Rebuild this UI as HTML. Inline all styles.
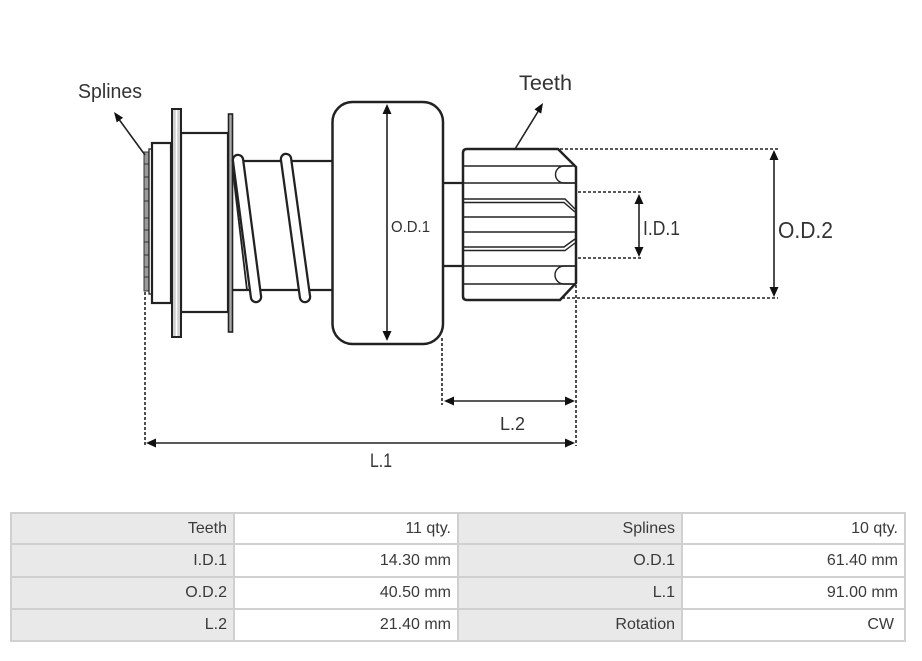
<!DOCTYPE html>
<html>
<head>
<meta charset="utf-8">
<style>
html,body{margin:0;padding:0;background:#fff;}
body{width:922px;height:661px;position:relative;overflow:hidden;font-family:"Liberation Sans",sans-serif;}
svg{position:absolute;left:0;top:0;}
.tbl{position:absolute;left:10px;top:512px;width:896px;height:130px;background:#d0d0d0;}
.c{position:absolute;box-sizing:border-box;text-align:right;padding-right:6px;font-size:16px;color:#3a3a3a;font-family:"Liberation Sans",sans-serif;}
.l{background:#e9e9e9;}
.v{background:#fff;}
</style>
</head>
<body>
<svg width="922" height="500" viewBox="0 0 922 500" xmlns="http://www.w3.org/2000/svg">
  <g fill="none" stroke="#222" stroke-width="1.6" stroke-dasharray="3,2">
    <line x1="145" y1="292" x2="145" y2="446"/>
    <line x1="576" y1="285" x2="576" y2="446"/>
    <line x1="442" y1="338" x2="442" y2="405"/>
    <line x1="560" y1="149" x2="778" y2="149"/>
    <line x1="562" y1="298" x2="778" y2="298"/>
    <line x1="578" y1="192" x2="641" y2="192"/>
    <line x1="578" y1="258" x2="641" y2="258"/>
  </g>

  <!-- shaft lines -->
  <g stroke="#222" stroke-width="2.2" fill="none">
    <line x1="232" y1="161" x2="333" y2="161"/>
    <line x1="232" y1="290" x2="333" y2="290"/>
    <line x1="443" y1="183" x2="463" y2="183"/>
    <line x1="443" y1="266" x2="463" y2="266"/>
  </g>

  <!-- splines strip -->
  <rect x="144" y="152" width="5" height="139" fill="#9a9a9a" stroke="#333" stroke-width="1"/>
  <g stroke="#333" stroke-width="1">
    <line x1="144" y1="164" x2="149" y2="164"/>
    <line x1="144" y1="177" x2="149" y2="177"/>
    <line x1="144" y1="189" x2="149" y2="189"/>
    <line x1="144" y1="201" x2="149" y2="201"/>
    <line x1="144" y1="218" x2="149" y2="218"/>
    <line x1="144" y1="230" x2="149" y2="230"/>
    <line x1="144" y1="242" x2="149" y2="242"/>
    <line x1="144" y1="255" x2="149" y2="255"/>
    <line x1="144" y1="267" x2="149" y2="267"/>
    <line x1="144" y1="277" x2="149" y2="277"/>
  </g>
  <rect x="149" y="149" width="3" height="145" fill="#fff" stroke="#222" stroke-width="1.3"/>
  <!-- collar -->
  <rect x="152" y="143" width="19" height="160" fill="#fff" stroke="#222" stroke-width="2.2"/>
  <!-- body between flanges -->
  <rect x="181" y="133" width="47" height="179" fill="#fff" stroke="#222" stroke-width="2.2"/>
  <!-- flange 1 -->
  <rect x="172" y="109" width="9" height="228" fill="#cfcfcf" stroke="#222" stroke-width="2"/>
  <line x1="176.5" y1="110" x2="176.5" y2="336" stroke="#fff" stroke-width="1.5"/>
  <!-- flange 2 -->
  <rect x="228.5" y="114" width="4" height="218" fill="#aaa" stroke="#222" stroke-width="1.6"/>

  <!-- spring back line -->
  <line x1="233" y1="172" x2="247" y2="290" stroke="#222" stroke-width="1.8"/>
  <!-- spring coils -->
  <g stroke-linecap="round">
    <line x1="238" y1="160" x2="256" y2="297" stroke="#222" stroke-width="12.5"/>
    <line x1="238" y1="160" x2="256" y2="297" stroke="#fff" stroke-width="8"/>
    <line x1="286" y1="159" x2="305" y2="297" stroke="#222" stroke-width="12.5"/>
    <line x1="286" y1="159" x2="305" y2="297" stroke="#fff" stroke-width="8"/>
  </g>

  <!-- O.D.1 block -->
  <rect x="332.5" y="102" width="110.5" height="242" rx="20" ry="20" fill="#fff" stroke="#222" stroke-width="2.5"/>

  <!-- teeth gear -->
  <path d="M467,149 L558,149 L576,167 L576,283 L560,300 L467,300 Q463,300 463,296 L463,153 Q463,149 467,149 Z" fill="#fff" stroke="#222" stroke-width="2.5"/>
  <g stroke="#222" stroke-width="1.4" fill="none">
    <line x1="464" y1="166" x2="572" y2="166"/>
    <line x1="464" y1="183" x2="576" y2="183"/>
    <polyline points="464,199 565,199 575,209"/>
    <polyline points="464,202.5 564,202.5 575,212"/>
    <line x1="464" y1="217" x2="576" y2="217"/>
    <line x1="464" y1="232" x2="576" y2="232"/>
    <polyline points="464,247 564,247 575,239"/>
    <polyline points="464,250.5 565,250.5 575,243"/>
    <line x1="464" y1="266" x2="576" y2="266"/>
    <line x1="464" y1="284" x2="574" y2="284"/>
    <path d="M575,166 L564,166 A8.5,8.5 0 0 0 564,183 L575,183"/>
    <path d="M575,266 L564,266 A9,9 0 0 0 564,284 L574,284"/>
  </g>

  <!-- dimension arrows -->
  <g stroke="#222" stroke-width="1.6">
    <line x1="387" y1="110" x2="387" y2="335"/>
    <line x1="639" y1="200" x2="639" y2="251"/>
    <line x1="774" y1="156" x2="774" y2="291"/>
    <line x1="450" y1="401" x2="569" y2="401"/>
    <line x1="152" y1="443" x2="569" y2="443"/>
    <line x1="145" y1="155" x2="118" y2="118"/>
    <line x1="515" y1="149" x2="539" y2="110"/>
  </g>
  <g fill="#111">
    <polygon points="387,104 382.5,114 391.5,114"/>
    <polygon points="387,341 382.5,331 391.5,331"/>
    <polygon points="639,194 634.5,204 643.5,204"/>
    <polygon points="639,257 634.5,247 643.5,247"/>
    <polygon points="774,150 769.5,160 778.5,160"/>
    <polygon points="774,297 769.5,287 778.5,287"/>
    <polygon points="444,401 454,396.5 454,405.5"/>
    <polygon points="575,401 565,396.5 565,405.5"/>
    <polygon points="146,443 156,438.5 156,447.5"/>
    <polygon points="575,443 565,438.5 565,447.5"/>
    <polygon points="114,112 123.1,117.8 116.7,122.4"/>
    <polygon points="543,103 541.2,113.6 534.4,109.4"/>
  </g>

  <!-- labels -->
  <g fill="#333" font-family="Liberation Sans, sans-serif">
    <text x="78" y="98" font-size="20" textLength="64" lengthAdjust="spacingAndGlyphs">Splines</text>
    <text x="519" y="90" font-size="21" textLength="53" lengthAdjust="spacingAndGlyphs">Teeth</text>
    <text x="391" y="232" font-size="16" textLength="39" lengthAdjust="spacingAndGlyphs">O.D.1</text>
    <text x="643" y="235" font-size="20" textLength="37" lengthAdjust="spacingAndGlyphs">I.D.1</text>
    <text x="778" y="238" font-size="23" textLength="55" lengthAdjust="spacingAndGlyphs">O.D.2</text>
    <text x="500" y="430" font-size="18" textLength="25" lengthAdjust="spacingAndGlyphs">L.2</text>
    <text x="370" y="467" font-size="19" textLength="22" lengthAdjust="spacingAndGlyphs">L.1</text>
  </g>
</svg>

<div class="tbl">
  <!-- row 1 -->
  <div class="c l" style="left:2px;top:2px;width:221px;height:29px;line-height:29px;">Teeth</div>
  <div class="c v" style="left:225px;top:2px;width:222px;height:29px;line-height:29px;">11 qty.</div>
  <div class="c l" style="left:449px;top:2px;width:222px;height:29px;line-height:29px;">Splines</div>
  <div class="c v" style="left:673px;top:2px;width:221px;height:29px;line-height:29px;">10 qty.</div>
  <!-- row 2 -->
  <div class="c l" style="left:2px;top:33px;width:221px;height:31px;line-height:31px;">I.D.1</div>
  <div class="c v" style="left:225px;top:33px;width:222px;height:31px;line-height:31px;">14.30 mm</div>
  <div class="c l" style="left:449px;top:33px;width:222px;height:31px;line-height:31px;">O.D.1</div>
  <div class="c v" style="left:673px;top:33px;width:221px;height:31px;line-height:31px;">61.40 mm</div>
  <!-- row 3 -->
  <div class="c l" style="left:2px;top:66px;width:221px;height:30px;line-height:30px;">O.D.2</div>
  <div class="c v" style="left:225px;top:66px;width:222px;height:30px;line-height:30px;">40.50 mm</div>
  <div class="c l" style="left:449px;top:66px;width:222px;height:30px;line-height:30px;">L.1</div>
  <div class="c v" style="left:673px;top:66px;width:221px;height:30px;line-height:30px;">91.00 mm</div>
  <!-- row 4 -->
  <div class="c l" style="left:2px;top:98px;width:221px;height:30px;line-height:30px;">L.2</div>
  <div class="c v" style="left:225px;top:98px;width:222px;height:30px;line-height:30px;">21.40 mm</div>
  <div class="c l" style="left:449px;top:98px;width:222px;height:30px;line-height:30px;">Rotation</div>
  <div class="c v" style="left:673px;top:98px;width:221px;height:30px;line-height:30px;padding-right:10px;">CW</div>
</div>
</body>
</html>
